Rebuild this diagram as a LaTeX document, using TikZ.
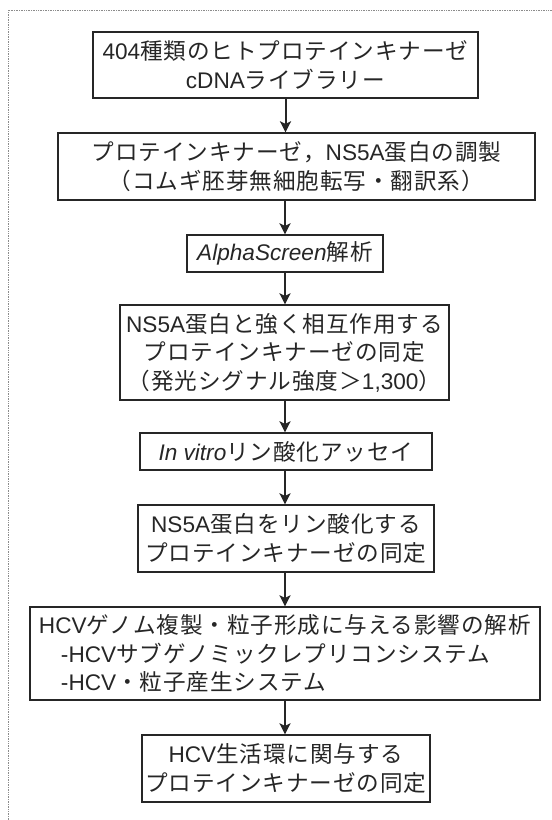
\documentclass[tikz,border=0pt]{standalone}
\usepackage{fontspec}
\setmainfont{Noto Sans CJK JP}[LetterSpace=4]
\newfontfamily\latf{Liberation Sans}
\newcommand{\lt}[1]{{\latf #1}}
\newcommand{\lit}[1]{{\latf\itshape #1}}
\usetikzlibrary{arrows.meta}
\begin{document}
\begin{tikzpicture}[x=1pt,y=-1pt,
  box/.style={draw=black!85, line width=1.3pt, inner sep=0pt, align=center,
    text=black!85, font=\fontsize{22.6}{28.5}\selectfont},
  boxl/.style={box, align=left},
  arr/.style={draw=black!85, line width=2pt, -{Stealth[length=11pt,width=11pt,inset=2.5pt]}}]
\useasboundingbox (0,0) rectangle (552,820);
\draw[black!45, line width=0.7pt, densely dotted] (8,820) -- (8,10) -- (552,10);

\node[box, minimum width=385pt, minimum height=66pt] (b1) at (285.5,65)
  {\lt{404}種類のヒトプロテインキナーゼ\\\lt{cDNA}ライブラリー};
\node[box, minimum width=477pt, minimum height=67pt] (b2) at (296.5,166.5)
  {プロテインキナーゼ，\lt{NS5A}蛋白の調製\\（コムギ胚芽無細胞転写・翻訳系）};
\node[box, minimum width=196pt, minimum height=37pt] (b3) at (285,253.5)
  {\lit{AlphaScreen}解析};
\node[box, minimum width=329pt, minimum height=95pt] (b4) at (284.5,352.5)
  {\lt{NS5A}蛋白と強く相互作用する\\プロテインキナーゼの同定\\（発光シグナル強度＞\lt{1,300}）};
\node[box, minimum width=292pt, minimum height=37pt] (b5) at (286,451.5)
  {\lit{In vitro}リン酸化アッセイ};
\node[box, minimum width=296pt, minimum height=67pt] (b6) at (286,538.5)
  {\lt{NS5A}蛋白をリン酸化する\\プロテインキナーゼの同定};
\node[boxl, minimum width=510pt, minimum height=93pt] (b7) at (285,653.5)
  {\lt{HCV}ゲノム複製・粒子形成に与える影響の解析\\
   \hspace*{22pt}\lt{-HCV}サブゲノミックレプリコンシステム\\
   \hspace*{22pt}\lt{-HCV}・粒子産生システム};
\node[box, minimum width=288pt, minimum height=67pt] (b8) at (286,768.5)
  {\lt{HCV}生活環に関与する\\プロテインキナーゼの同定};

\draw[arr] (b1.south) -- (b1.south |- b2.north);
\draw[arr] (b3.north |- b2.south) -- (b3.north);
\draw[arr] (b3.south) -- (b3.south |- b4.north);
\draw[arr] (b3.south |- b4.south) -- (b3.south |- b5.north);
\draw[arr] (b3.south |- b5.south) -- (b3.south |- b6.north);
\draw[arr] (b3.south |- b6.south) -- (b3.south |- b7.north);
\draw[arr] (b3.south |- b7.south) -- (b3.south |- b8.north);
\end{tikzpicture}
\end{document}
